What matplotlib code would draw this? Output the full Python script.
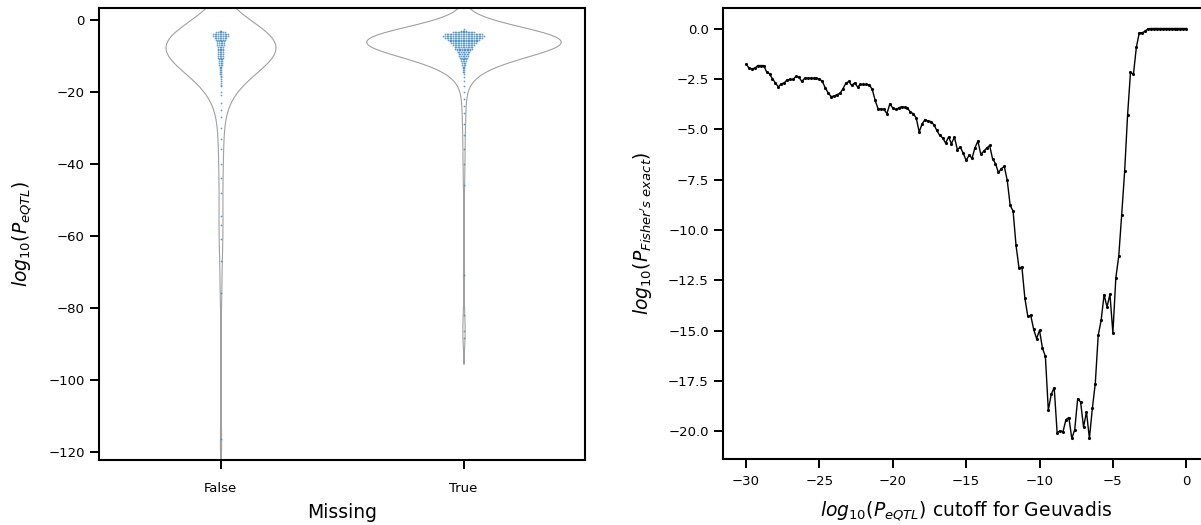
import matplotlib
matplotlib.use('Agg')

import numpy as np
import matplotlib.pyplot as plt
from matplotlib import mlab

# left panel: log10 eQTL p-values, binned (level -> number of genes), plus sparse tail
groups = ['False', 'True']

false_levels = [-3.0, -3.5, -4.0, -4.5, -5.0, -5.5, -6.0, -6.5, -7.0, -7.5, -8.0,
                -8.5, -9.0, -9.5, -10.0, -10.5, -11.0, -11.5, -12.0, -12.5, -13.0,
                -13.5, -14.0, -14.5, -15.0, -15.5, -16.0, -16.5, -17.0, -17.5, -18.0, -18.5]
false_counts = [2, 6, 10, 10, 8, 6, 5, 5, 5, 4, 4, 4, 4, 4, 4, 4, 3, 3, 3, 3, 2,
                2, 2, 2, 2, 1, 1, 1, 1, 1, 1, 1]
false_tail = [-20, -21, -23, -25, -27, -30, -33, -36, -40, -44, -48, -54.5, -57,
              -61, -67, -76, -116.5]

true_levels = [-2.5, -3.0, -3.5, -4.0, -4.5, -5.0, -5.5, -6.0, -6.5, -7.0, -7.5,
               -8.0, -8.5, -9.0, -9.5, -10.0, -10.5, -11.0, -11.5, -12.0, -12.5,
               -13.0, -13.5, -14.0, -14.5, -15.0]
true_counts = [1, 4, 14, 24, 26, 24, 20, 18, 16, 14, 12, 11, 9, 8, 7, 6, 5, 4, 4,
               3, 3, 2, 2, 2, 2, 1]
true_tail = [-16, -17, -18.5, -20, -22, -24, -26, -29, -32, -36, -40, -46, -71,
             -82, -86.5, -88.5]

# right panel: Fisher's exact test p-value vs eQTL cutoff
cutoffs = np.round(np.arange(-30, 0.001, 0.2), 1)
fisher_logp = [
    -1.78, -1.95, -2.00, -1.97, -1.84, -1.84, -1.84, -2.15, -2.25, -2.50,
    -2.70, -2.90, -2.75, -2.70, -2.55, -2.53, -2.53, -2.38, -2.41, -2.63,
    -2.47, -2.47, -2.47, -2.47, -2.48, -2.50, -2.63, -2.95, -3.20, -3.38,
    -3.36, -3.28, -3.22, -3.00, -2.72, -2.63, -2.83, -2.70, -2.90, -2.78,
    -2.78, -2.78, -2.80, -3.02, -3.57, -3.99, -4.00, -4.02, -4.23, -3.74,
    -3.95, -4.02, -3.95, -3.88, -3.92, -3.95, -4.15, -4.23, -4.45, -5.14,
    -4.73, -4.52, -4.60, -4.62, -4.78, -5.06, -5.31, -5.43, -5.69, -5.39,
    -5.72, -5.39, -6.02, -5.89, -6.19, -6.55, -6.30, -6.44, -5.92, -5.59,
    -6.25, -6.09, -5.94, -5.81, -6.47, -6.71, -7.15, -6.96, -6.85, -7.54,
    -8.78, -9.07, -10.77, -11.88, -11.85, -13.38, -14.29, -14.24, -14.94, -15.40,
    -14.99, -15.87, -16.28, -18.96, -18.16, -17.83, -20.07, -19.98, -20.03, -19.42,
    -19.32, -20.36, -19.92, -18.38, -18.55, -19.79, -19.04, -20.36, -18.87, -17.63,
    -15.24, -14.49, -13.22, -13.83, -13.20, -15.12, -12.39, -11.30, -9.25, -7.10,
    -4.32, -2.17, -2.28, -0.93, -0.21, -0.21, -0.13, -0.01, 0.0, 0.0,
    0.0, 0.0, 0.0, 0.0, 0.0, 0.0, 0.0, 0.0, 0.0, 0.0,
    0.0,
]

plt.rcParams['axes.linewidth'] = 1.5
plt.rcParams['xtick.major.width'] = 1.4
plt.rcParams['ytick.major.width'] = 1.4
plt.rcParams['xtick.major.size'] = 6.7
plt.rcParams['ytick.major.size'] = 6.7
plt.rcParams['xtick.labelsize'] = 9.5
plt.rcParams['ytick.labelsize'] = 9.5

fig = plt.figure(figsize=(12.01, 5.25), dpi=100)
ax1 = fig.add_axes([99 / 1201, 65 / 525, 486 / 1201, 452 / 525])
ax2 = fig.add_axes([723 / 1201, 66 / 525, 486 / 1201, 451 / 525])

# ---- violins + swarm ----
data = [
    (false_levels, false_counts, false_tail),
    (true_levels, true_counts, true_tail),
]
densities = []
for levels, counts, tail in data:
    vals = np.concatenate([np.repeat(levels, counts), tail])
    kde = mlab.GaussianKDE(vals, 'scott')
    bw = kde.covariance_factor() * vals.std(ddof=1)
    grid = np.linspace(vals.min() - 2 * bw, vals.max() + 2 * bw, 400)
    densities.append((grid, kde.evaluate(grid)))

peak = max(d.max() for g, d in densities)
for pos, (grid, dens) in enumerate(densities):
    half = dens / peak * 0.4
    ax1.fill_betweenx(grid, pos - half, pos + half, facecolor='white',
                      edgecolor='#a0a0a0', linewidth=0.8, zorder=1)

dx = 0.0066
for pos, (levels, counts, tail) in enumerate(data):
    xs, ys = [], []
    for lv, c in zip(levels, counts):
        offs = (np.arange(c) - (c - 1) / 2) * dx
        xs.extend(pos + offs)
        ys.extend([lv] * c)
    xs.extend([pos] * len(tail))
    ys.extend(tail)
    ax1.scatter(xs, ys, s=1.6, color='#3a86c6', linewidths=0, alpha=0.8, zorder=2)

ax1.set_xlim(-0.5, 1.5)
ax1.set_ylim(-122.3, 3.3)
ax1.set_xticks([0, 1])
ax1.set_xticklabels(groups)
ax1.tick_params(axis='x', pad=9)
ax1.set_xlabel('Missing', fontsize=13.5, labelpad=6)
ax1.set_ylabel(r'$log_{10}(P_{eQTL})$', fontsize=13.5, labelpad=10)

# ---- Fisher line ----
ax2.plot(cutoffs, fisher_logp, color='black', linewidth=1.0, marker='.', markersize=2.5)
ax2.set_xlim(-31.57, 1.55)
ax2.set_xticks([-30, -25, -20, -15, -10, -5, 0])
ax2.tick_params(axis='x', pad=5)
ax2.set_xlabel(r'$log_{10}(P_{eQTL})$ cutoff for Geuvadis', fontsize=13.5, labelpad=8)
ax2.set_ylabel(r"$log_{10}(P_{Fisher's\ exact})$", fontsize=13.5, labelpad=10)

plt.savefig('out.png', dpi=100)
